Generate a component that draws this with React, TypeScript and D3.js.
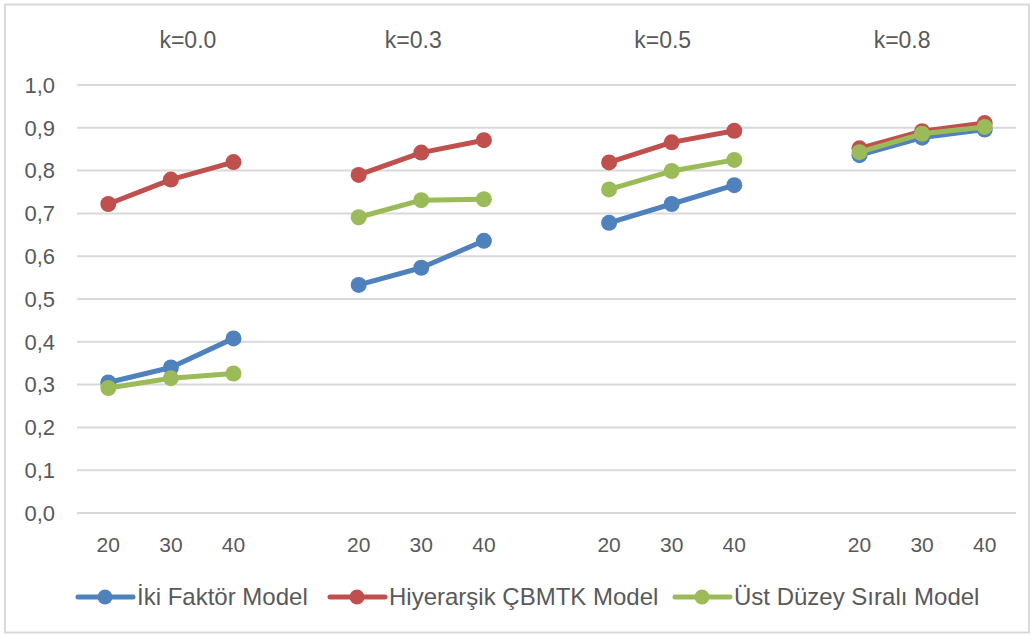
import React from "react";
import * as d3 from "d3";

// panels (k values) and sample sizes on the x axis
const panels = ["k=0.0", "k=0.3", "k=0.5", "k=0.8"];
const sizes = ["20", "30", "40"];

// values per panel, one triple per k
const ikiFaktor = [
  [0.305, 0.34, 0.408],
  [0.533, 0.573, 0.636],
  [0.678, 0.722, 0.766],
  [0.836, 0.877, 0.896],
];
const hiyerarsik = [
  [0.722, 0.779, 0.82],
  [0.79, 0.842, 0.871],
  [0.819, 0.866, 0.893],
  [0.852, 0.892, 0.911],
];
const ustDuzey = [
  [0.292, 0.315, 0.326],
  [0.691, 0.731, 0.733],
  [0.756, 0.799, 0.825],
  [0.843, 0.886, 0.902],
];

const yTicks = [0, 0.1, 0.2, 0.3, 0.4, 0.5, 0.6, 0.7, 0.8, 0.9, 1.0];

const series = [
  { name: "İki Faktör Model", color: "#4F81BD", values: ikiFaktor },
  { name: "Hiyerarşik ÇBMTK Model", color: "#C0504D", values: hiyerarsik },
  { name: "Üst Düzey Sıralı Model", color: "#9BBB59", values: ustDuzey },
];

// layout
const W = 1036;
const H = 635;
const plot = { left: 77, right: 1016, top: 85, bottom: 513 };
const titleOffset = [17, -8, -9, -20]; // title boxes were nudged by hand in the original
const legendX = [78, 330, 675];
const FONT = "'Liberation Sans', Arial, sans-serif";
const TEXT = "#595959";

// 15 slots: 3 sizes per panel with an empty slot between panels
const slots: string[] = [];
panels.forEach((p, i) => {
  if (i > 0) slots.push("gap" + i);
  sizes.forEach((s) => slots.push(p + "|" + s));
});

export default function App() {
  const x = d3.scaleBand().domain(slots).range([plot.left, plot.right]);
  const y = d3.scaleLinear().domain([0, 1]).range([plot.bottom, plot.top]);
  const cx = (p: string, s: string) => (x(p + "|" + s) as number) + x.bandwidth() / 2;
  const fmt = (v: number) => d3.format(".1f")(v).replace(".", ",");

  return (
    <svg
      width={W}
      height={H}
      style={{ position: "absolute", left: 0, top: 0, display: "block", background: "#fff" }}
      fontFamily={FONT}
    >
      <rect x={5} y={4.5} width={1024} height={628} fill="#fff" stroke="#D9D9D9" strokeWidth={2} />

      {/* gridlines + y labels */}
      {yTicks.map((t) => (
        <g key={t}>
          <line x1={plot.left} x2={plot.right} y1={y(t)} y2={y(t)} stroke="#D9D9D9" strokeWidth={2} />
          <text x={55} y={y(t)} dy="0.35em" textAnchor="end" fontSize={22} fill={TEXT}>
            {fmt(t)}
          </text>
        </g>
      ))}

      {/* panel titles */}
      {panels.map((p, i) => (
        <text key={p} x={cx(p, "30") + titleOffset[i]} y={48} textAnchor="middle" fontSize={23} fill={TEXT}>
          {p}
        </text>
      ))}

      {/* x labels */}
      {panels.map((p) =>
        sizes.map((s) => (
          <text key={p + s} x={cx(p, s)} y={552} textAnchor="middle" fontSize={21} fill={TEXT}>
            {s}
          </text>
        ))
      )}

      {/* series */}
      {series.map((se) => (
        <g key={se.name}>
          {panels.map((p, pi) => {
            const line = d3
              .line<number>()
              .x((_, i) => cx(p, sizes[i]))
              .y((v) => y(v));
            return (
              <g key={p}>
                <path d={line(se.values[pi]) || ""} fill="none" stroke={se.color} strokeWidth={5} strokeLinejoin="round" strokeLinecap="round" />
                {se.values[pi].map((v, i) => (
                  <circle key={i} cx={cx(p, sizes[i])} cy={y(v)} r={8} fill={se.color} />
                ))}
              </g>
            );
          })}
        </g>
      ))}

      {/* legend */}
      {series.map((se, i) => (
        <g key={se.name} transform={`translate(${legendX[i]},597)`}>
          <line x1={0} x2={55} y1={0} y2={0} stroke={se.color} strokeWidth={5} strokeLinecap="round" />
          <circle cx={27} cy={0} r={7.5} fill={se.color} />
          <text x={59} y={0} dy="0.35em" fontSize={24} fill={TEXT}>
            {se.name}
          </text>
        </g>
      ))}
    </svg>
  );
}
